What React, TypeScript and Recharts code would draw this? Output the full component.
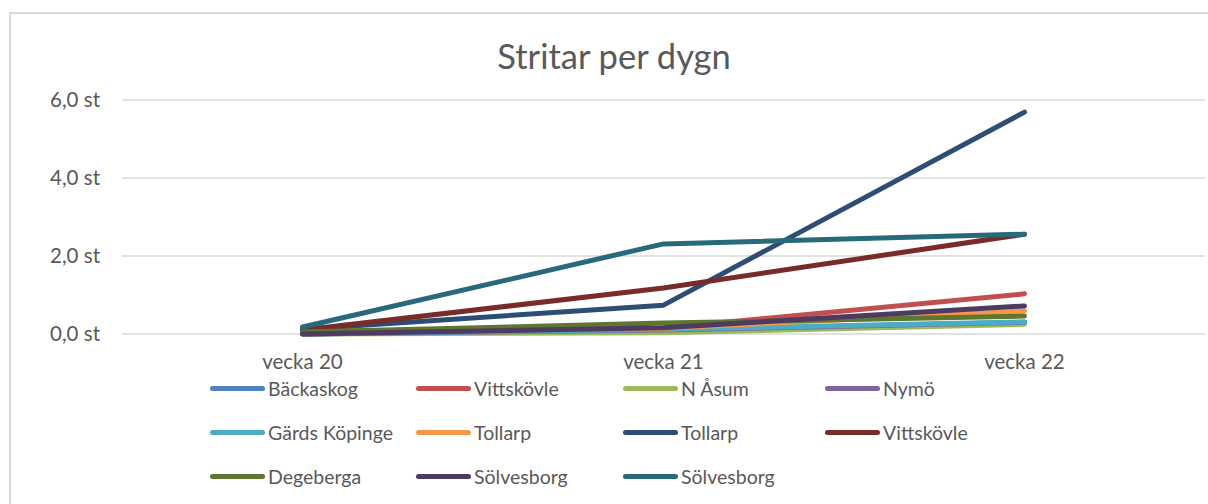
import React from "react"
import { LineChart, Line, XAxis, YAxis, CartesianGrid } from "recharts"

const weeks = ["vecka 20", "vecka 21", "vecka 22"]
const yTicks = [0, 2, 4, 6]

const seriesNames = [
  "Bäckaskog", "Vittskövle", "N Åsum", "Nymö",
  "Gärds Köpinge", "Tollarp", "Tollarp", "Vittskövle",
  "Degeberga", "Sölvesborg", "Sölvesborg",
]
const seriesColors = [
  "#4F81BD", "#C0504D", "#9BBB59", "#8064A2",
  "#4BACC6", "#F79646", "#2C4D75", "#772C2A",
  "#5F7530", "#4D3B62", "#276A7C",
]

const backaskog = [0, 0.1, 0.3]
const vittskovle = [0, 0.15, 1.03]
const nAsum = [0, 0.03, 0.25]
const nymo = [0, 0.1, 0.3]
const gardsKopinge = [0, 0.12, 0.31]
const tollarpA = [0.08, 0.15, 0.59]
const tollarpB = [0.12, 0.74, 5.69]
const vittskovleB = [0.1, 1.18, 2.56]
const degeberga = [0.05, 0.28, 0.46]
const solvesborgA = [0, 0.16, 0.72]
const solvesborgB = [0.18, 2.31, 2.56]

const allSeries = [
  backaskog, vittskovle, nAsum, nymo, gardsKopinge, tollarpA,
  tollarpB, vittskovleB, degeberga, solvesborgA, solvesborgB,
]

const data = weeks.map((w, i) => {
  const row: any = { week: w }
  allSeries.forEach((s, k) => { row["s" + k] = s[i] })
  return row
})

const FONT = "Lato, 'Open Sans', sans-serif"
const TEXT = "#595959"
const GRID = "#d9d9d9"

const fmt = (v: number) => v.toFixed(1).replace(".", ",") + " st"

// legend drawn by hand: recharts dedupes the repeated names
const LegendBox = () => (
  <div style={{ position: "absolute", left: 210, top: 376, display: "grid", gridTemplateColumns: "206px 207px 202px 200px", rowGap: 20, fontFamily: FONT, fontSize: 19.5, color: TEXT }}>
    {seriesNames.map((n, i) => (
      <div key={i} style={{ display: "flex", alignItems: "center", height: 24, whiteSpace: "nowrap" }}>
        <span style={{ display: "inline-block", width: 55, height: 5, borderRadius: 3, background: seriesColors[i], marginRight: 3 }} />
        <span>{n}</span>
      </div>
    ))}
  </div>
)

export default function App() {
  return (
    <div style={{ position: "absolute", left: 0, top: 0, width: 1208, height: 504, background: "#fff", overflow: "hidden" }}>
      <div style={{ position: "absolute", left: 9, top: 12, width: 1220, height: 520, border: `2px solid ${GRID}`, boxSizing: "border-box" }} />
      <div style={{ position: "absolute", left: 0, top: 35, width: 1228, textAlign: "center", fontFamily: FONT, fontSize: 34.5, color: TEXT }}>
        Stritar per dygn
      </div>
      <LineChart width={1208} height={504} data={data} margin={{ top: 100, right: 3, bottom: 130, left: 42 }}>
        <CartesianGrid vertical={false} stroke={GRID} strokeWidth={1.5} />
        <XAxis
          xAxisId="grid"
          type="number"
          domain={[0, 3]}
          ticks={[0, 1, 2, 3]}
          allowDataOverflow
          height={0}
          tick={false}
          tickSize={6}
          stroke={GRID}
          strokeWidth={1.5}
        />
        <XAxis
          dataKey="week"
          height={40}
          padding={{ left: 180.5, right: 180.5 }}
          axisLine={false}
          tickLine={false}
          tickSize={0}
          tickMargin={20}
          interval={0}
          tick={{ fill: TEXT, fontSize: 20.5, fontFamily: FONT }}
        />
        <YAxis
          width={80}
          domain={[0, 6]}
          ticks={yTicks}
          axisLine={false}
          tickLine={false}
          tickSize={0}
          tickMargin={22}
          tickFormatter={fmt}
          tick={{ fill: TEXT, fontSize: 20.5, fontFamily: FONT }}
        />
        {allSeries.map((_, k) => (
          <Line
            key={k}
            dataKey={"s" + k}
            name={seriesNames[k]}
            stroke={seriesColors[k]}
            strokeWidth={5}
            strokeLinecap="round"
            strokeLinejoin="round"
            dot={false}
            activeDot={false}
            type="linear"
            isAnimationActive={false}
          />
        ))}
      </LineChart>
      <LegendBox />
    </div>
  )
}
